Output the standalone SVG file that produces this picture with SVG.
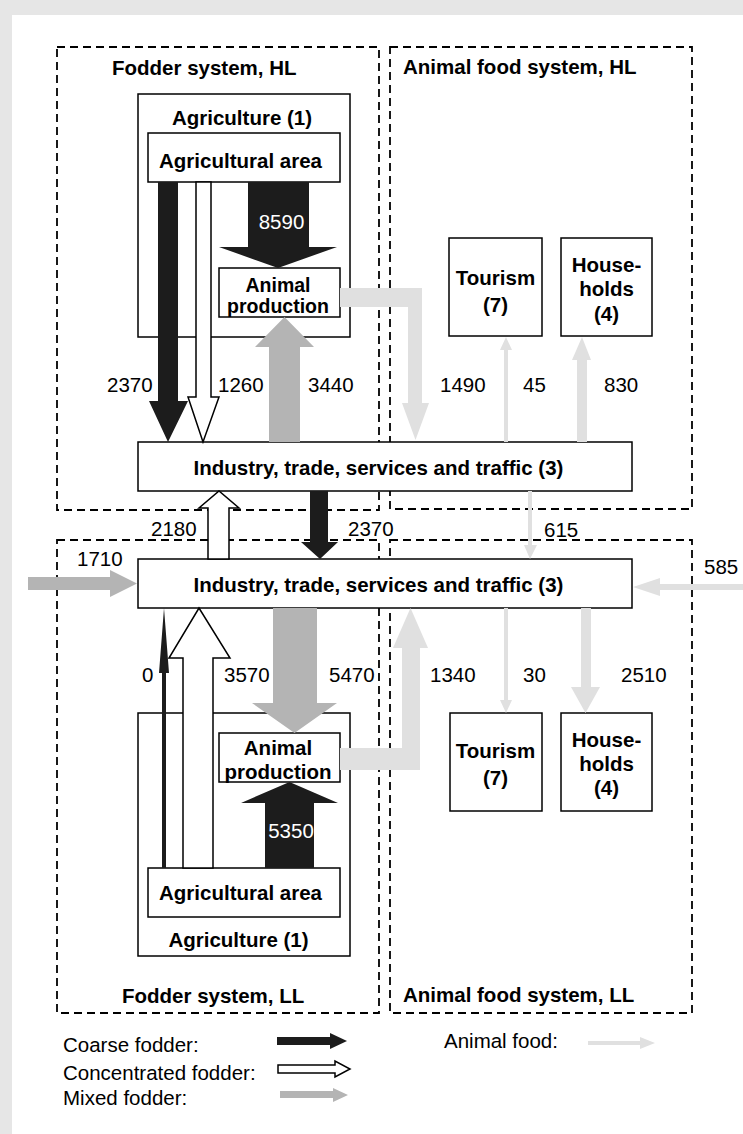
<svg xmlns="http://www.w3.org/2000/svg" width="743" height="1134" viewBox="0 0 743 1134">
<style>
.sys{fill:none;stroke:#000;stroke-width:1.8;stroke-dasharray:8 5}
.box{fill:#fff;stroke:#000;stroke-width:1.5}
.b{font-family:"Liberation Sans",Arial,sans-serif;font-weight:bold;font-size:20.5px;fill:#000}
.t{font-family:"Liberation Sans",Arial,sans-serif;font-size:20.5px;fill:#000}
.c{text-anchor:middle}
.s{font-size:19.5px}
.coarse{fill:#1c1c1c}
.conc{fill:#fff;stroke:#000;stroke-width:1.5}
.mixed{fill:#b4b4b4}
.food{fill:#e0e0e0}
.wt{font-family:"Liberation Sans",Arial,sans-serif;font-size:20.5px;fill:#fff;text-anchor:middle}
</style>
<rect x="0" y="0" width="743" height="1134" fill="#e6e6e6"/>
<rect x="12" y="15" width="731" height="1119" fill="#fff"/>

<g id="systems">
<rect id="fodder-hl" class="sys" x="57" y="47" width="322" height="463"/>
<rect id="food-hl" class="sys" x="390" y="47" width="302" height="462"/>
<rect id="fodder-ll" class="sys" x="57" y="540" width="322" height="473"/>
<rect id="food-ll" class="sys" x="390" y="540" width="302" height="473"/>
<text class="b" x="112" y="75">Fodder system, HL</text>
<text class="b" x="403" y="74">Animal food system, HL</text>
<text class="b" x="122" y="1003">Fodder system, LL</text>
<text class="b" x="403" y="1002">Animal food system, LL</text>
</g>

<g id="agri-hl">
<rect class="box" x="138" y="94" width="212" height="243"/>
<text class="b c" x="242" y="125">Agriculture (1)</text>
</g>
<g id="area-hl">
<rect class="box" x="148" y="133" width="192" height="49"/>
<text class="b c" x="240.5" y="168">Agricultural area</text>
</g>
<g id="animal-hl">
<rect class="box" x="219" y="268" width="121" height="49"/>
<text class="b c s" x="278" y="292">Animal</text>
<text class="b c s" x="278" y="313">production</text>
</g>
<g id="industry-hl">
<rect class="box" x="138" y="442" width="494" height="49"/>
<text class="b c" x="378.5" y="475">Industry, trade, services and traffic (3)</text>
</g>
<g id="tourism-hl">
<rect class="box" x="449" y="238" width="93" height="98"/>
<text class="b c" x="495.5" y="285">Tourism</text>
<text class="b c" x="495.5" y="312">(7)</text>
</g>
<g id="households-hl">
<rect class="box" x="561" y="238" width="91" height="98"/>
<text class="b c" x="606.5" y="272">House-</text>
<text class="b c" x="606.5" y="296">holds</text>
<text class="b c" x="606.5" y="321">(4)</text>
</g>

<g id="industry-ll">
<rect class="box" x="138" y="559" width="494" height="49"/>
<text class="b c" x="378.5" y="592">Industry, trade, services and traffic (3)</text>
</g>
<g id="agri-ll">
<rect class="box" x="138" y="713" width="212" height="243"/>
<text class="b c" x="238.5" y="947">Agriculture (1)</text>
</g>
<g id="area-ll">
<rect class="box" x="148" y="868" width="192" height="49"/>
<text class="b c" x="240.5" y="900">Agricultural area</text>
</g>
<g id="animal-ll">
<rect class="box" x="219" y="733" width="121" height="49"/>
<text class="b c" x="278" y="755">Animal</text>
<text class="b c" x="278" y="779">production</text>
</g>
<g id="tourism-ll">
<rect class="box" x="450" y="713" width="92" height="98"/>
<text class="b c" x="495.5" y="758">Tourism</text>
<text class="b c" x="495.5" y="785">(7)</text>
</g>
<g id="households-ll">
<rect class="box" x="561" y="713" width="91" height="98"/>
<text class="b c" x="606.5" y="747">House-</text>
<text class="b c" x="606.5" y="771">holds</text>
<text class="b c" x="606.5" y="795">(4)</text>
</g>

<g id="connectors">
<polygon class="coarse" points="158,182 178,182 178,401 188,401 168,442 149,401 158,401"/>
<polygon class="conc" points="196,182 211,182 211,397 219,397 203,442 188,397 196,397"/>
<polygon class="coarse" points="248,182 309,182 309,247 337,247 278,268 219,247 248,247"/>
<polygon class="mixed" points="269,442 300,442 300,347 314,347 284.5,317 255,347 269,347"/>
<polygon class="conc" points="208,559 229,559 229,508 239,508 219,491 199,508 208,508"/>
<polygon class="coarse" points="310,491 328,491 328,542 338,542 320,559 301,542 310,542"/>
<polygon class="mixed" points="28,577 110,577 110,570 137,583.5 110,597 110,590 28,590"/>
<polygon class="food" points="743,584 660,584 660,578 633,587 660,596 660,590 743,590"/>
<polygon class="food" points="528,491 532,491 532,545 537,545 530,559 524,545 528,545"/>
<polygon class="food" points="340,288 422,288 422,403 429,403 415.5,440 402,403 408,403 408,307 340,307"/>
<polygon class="food" points="504,442 508,442 508,350 512,350 506,337 500,350 504,350"/>
<polygon class="food" points="577,442 587,442 587,360 591,360 582,337 572,360 577,360"/>
<polygon class="food" points="340,748 402,748 402,648 393,648 410.5,608 428,648 420,648 420,770 340,770"/>
<polygon class="food" points="504,608 508,608 508,700 512,700 506,713 500,700 504,700"/>
<polygon class="food" points="581,608 591,608 591,687 600,687 585.5,713 571,687 581,687"/>
<polygon class="coarse" points="162,868 166,868 166,673 169,673 164,608 159,673 162,673"/>
<polygon class="conc" points="183,868 213,868 213,658 230,658 199,608 169,658 183,658"/>
<polygon class="mixed" points="273,608 317,608 317,703 337,703 294.5,733 252,703 273,703"/>
<polygon class="coarse" points="265,868 314,868 314,803 338,803 289.5,782 241,803 265,803"/>
</g>

<g id="labels">
<text class="wt" x="281.5" y="229">8590</text>
<text class="wt" x="291" y="838">5350</text>
<text class="t" x="107" y="392">2370</text>
<text class="t" x="218" y="392">1260</text>
<text class="t" x="308" y="392">3440</text>
<text class="t" x="440" y="392">1490</text>
<text class="t" x="523" y="392">45</text>
<text class="t" x="604" y="392">830</text>
<text class="t" x="151" y="536">2180</text>
<text class="t" x="348" y="536">2370</text>
<text class="t" x="544" y="537">615</text>
<text class="t" x="77" y="566">1710</text>
<text class="t" x="704" y="574">585</text>
<text class="t" x="142" y="682">0</text>
<text class="t" x="224" y="682">3570</text>
<text class="t" x="329" y="682">5470</text>
<text class="t" x="430" y="682">1340</text>
<text class="t" x="523" y="682">30</text>
<text class="t" x="621" y="682">2510</text>
</g>

<g id="legend">
<text class="t" x="63" y="1052">Coarse fodder:</text>
<text class="t" x="63" y="1080">Concentrated fodder:</text>
<text class="t" x="63" y="1105">Mixed fodder:</text>
<text class="t" x="444" y="1048">Animal food:</text>
<polygon class="coarse" points="277,1037 330,1037 330,1033 347,1041 330,1049 330,1045 277,1045"/>
<polygon class="conc" points="278,1065 335,1065 335,1061 350,1069 335,1077 335,1073 278,1073"/>
<polygon class="mixed" points="280,1091 333,1091 333,1088 348,1095 333,1102 333,1098 280,1098"/>
<polygon class="food" points="588,1041 640,1041 640,1037 655,1043 640,1049 640,1045 588,1045"/>
</g>
</svg>
